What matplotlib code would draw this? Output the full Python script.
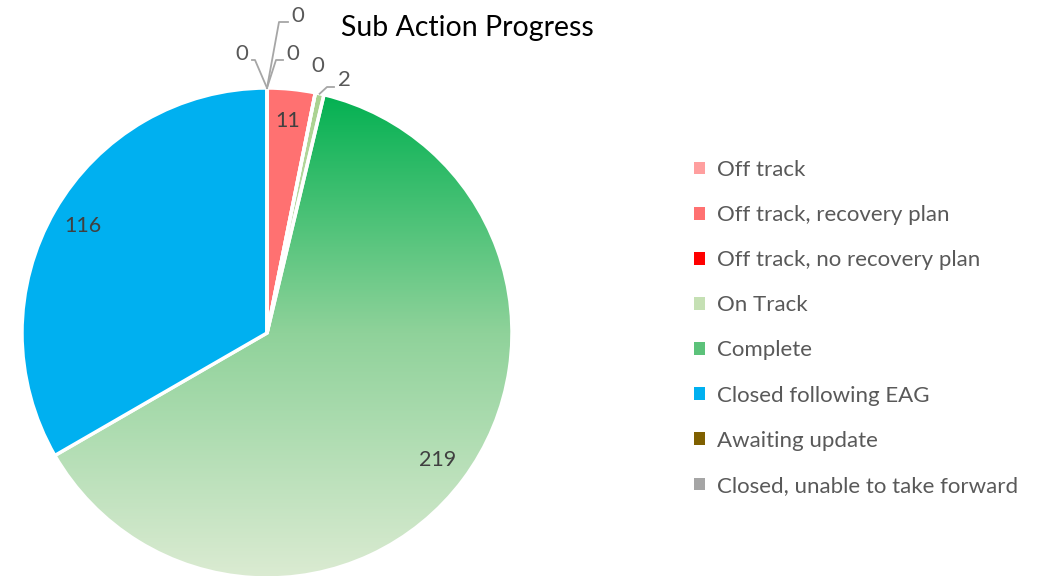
'''
Sub action progress pie chart
'''
import numpy as np
import matplotlib
matplotlib.use('Agg')
from matplotlib import pyplot as plt
from matplotlib.patches import Patch
from matplotlib.colors import LinearSegmentedColormap

categories = ['Off track', 'Off track, recovery plan', 'Off track, no recovery plan',
              'On Track', 'Complete', 'Closed following EAG', 'Awaiting update',
              'Closed, unable to take forward']
values = [0, 11, 0, 2, 219, 116, 0, 0]
colors = ['#ff9f9f', '#ff7171', '#ff0000', '#b5d99c', '#3dbb6a', '#00b0f0', '#7f6000', '#a5a5a5']

plt.rcParams['font.family'] = ['Lato', 'DejaVu Sans']

fig = plt.figure(figsize=(10.4, 5.76), dpi=100)
ax = fig.add_axes([0, 0, 1, 1])
ax.set_xlim(0, 1040)
ax.set_ylim(0, 576)
ax.set_aspect('equal')
ax.axis('off')

cx, cy, r = 267, 243, 245
wedges, _ = ax.pie(values, colors=colors, startangle=90, counterclock=False,
                   center=(cx, cy), radius=r,
                   wedgeprops=dict(edgecolor='white', linewidth=2.5))

# gradient fill for the Complete slice
grad = LinearSegmentedColormap.from_list('g', ['#dbebd2', '#8fd29a', '#00b050'])
wc = wedges[4]
wc.set_facecolor('none')
img = ax.imshow(np.linspace(0, 1, 256).reshape(-1, 1), cmap=grad, origin='lower',
                extent=(cx - r, cx + r, cy - r, cy + r), aspect='auto', zorder=0.5)
img.set_clip_path(wc)
ax.set_xlim(0, 1040)
ax.set_ylim(0, 576)

wo = wedges[3]
img2 = ax.imshow(np.linspace(0, 1, 256).reshape(-1, 1),
                 cmap=LinearSegmentedColormap.from_list('o', ['#e2efd9', '#a9d18e']),
                 origin='lower', extent=(cx - r, cx + r, cy - r, cy + r),
                 aspect='auto', zorder=0.5)
img2.set_clip_path(wo)
wo.set_facecolor('none')

lab_col = '#404040'
for w, v in zip(wedges, values):
    if v < 10:
        continue
    ang = np.deg2rad((w.theta1 + w.theta2) / 2)
    ax.text(cx + 0.87 * r * np.cos(ang), cy + 0.87 * r * np.sin(ang), str(v),
            ha='center', va='center', fontsize=15.5, color=lab_col)


def edge_point(w, frac=0.5):
    ang = np.deg2rad(w.theta1 + frac * (w.theta2 - w.theta1))
    return cx + r * np.cos(ang), cy + r * np.sin(ang)


# small slices: label position and elbow
small = [
    (0, (242, 522), (255, 516), 'right'),
    (6, (293, 522), (276, 516), 'left'),
    (7, (298, 560), (279, 554), 'left'),
    (3, (344, 496), (327, 489), 'left'),
]
for i, txt, elbow, side in small:
    x0, y0 = edge_point(wedges[i])
    tx = txt[0] - 10 if side == 'left' else txt[0] + 10
    ax.plot([x0, elbow[0], tx], [y0, elbow[1], elbow[1]], color='#a6a6a6', lw=1.3)
    ax.text(txt[0], txt[1], str(values[i]), ha='center', va='center',
            fontsize=16, color='#595959')
ax.text(318, 510, str(values[2]), ha='center', va='center', fontsize=16, color='#595959')

ax.text(467, 548, 'Sub Action Progress', ha='center', va='center', fontsize=20.5, color='black')

handles = [Patch(facecolor=c, edgecolor='none') for c in colors]
handles[3] = Patch(facecolor='#c5e0b4', edgecolor='none')
handles[4] = Patch(facecolor='#5cc27a', edgecolor='none')
fig.legend(handles, categories, loc='upper left', bbox_to_anchor=(0.648, 0.757),
           frameon=False, fontsize=16, labelcolor='#595959',
           handlelength=0.5, handleheight=0.5, handletextpad=0.55,
           labelspacing=1.13)

fig.savefig('out.png', dpi=100)
